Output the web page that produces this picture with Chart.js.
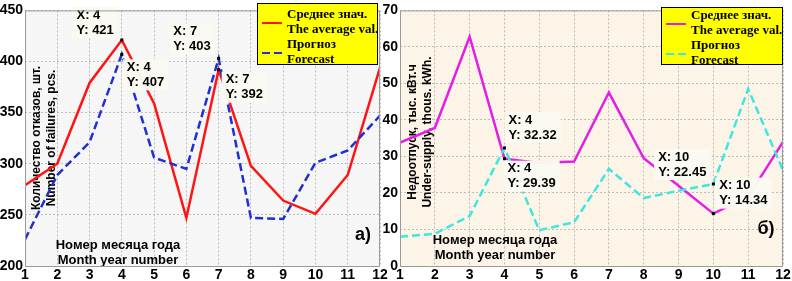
<!DOCTYPE html>
<html>
<head>
<meta charset="utf-8">
<script src="https://cdn.jsdelivr.net/npm/chart.js@4.4.1/dist/chart.umd.min.js"></script>
<style>
  html, body { margin: 0; padding: 0; background: #fff; width: 792px; height: 281px; overflow: hidden; }
  .wrap { position: absolute; top: 0; height: 281px; }
  #wrapA { left: 0; width: 392px; }
  #wrapB { left: 378px; width: 414px; }
</style>
</head>
<body>
<div class="wrap" id="wrapA"><canvas id="chartA" width="392" height="281"></canvas></div>
<div class="wrap" id="wrapB"><canvas id="chartB" width="414" height="281"></canvas></div>
<script>
// DATA
const months = [1, 2, 3, 4, 5, 6, 7, 8, 9, 10, 11, 12];
const failuresAvg      = [279, 300, 379, 421, 359, 247, 392, 298, 264, 251, 289, 394];
const failuresForecast = [226, 289, 321, 407, 306, 295, 403, 247, 246, 301, 313, 347];
const undersupplyAvg      = [33.8, 37.8, 62.8, 29.39, 28.2, 28.6, 47.5, 29.5, 22.0, 14.34, 19.0, 34.0];
const undersupplyForecast = [8.0, 8.8, 13.7, 32.32, 9.8, 12.0, 26.6, 18.6, 20.6, 22.45, 48.5, 26.2];

const seriesNames = [['Среднее знач.', 'The average val.'], ['Прогноз', 'Forecast']];
const xTitle = ['Номер месяца года', 'Month year number'];
const yTitleA = ['Количество отказов, шт.', 'Number of failures, pcs.'];
const yTitleB = ['Недоотпуск, тыс. кВт.ч', 'Under-supply, thous. kWh.'];
const yTicksA = [200, 250, 300, 350, 400, 450];
const yTicksB = [0, 10, 20, 30, 40, 50, 60, 70];

const SANS = '"Liberation Sans", Arial, sans-serif';
const SERIF = '"Liberation Serif", "Times New Roman", serif';

// PLUGINS
const plotBg = {
  id: 'plotBg',
  beforeDraw(chart, args, o) {
    const { ctx, chartArea: a } = chart;
    ctx.save();
    ctx.fillStyle = o.color;
    ctx.fillRect(a.left, a.top, a.right - a.left, a.bottom - a.top);
    ctx.restore();
  },
  afterDraw(chart, args, o) {
    const { ctx, chartArea: a } = chart;
    ctx.save();
    ctx.strokeStyle = o.frame;
    ctx.lineWidth = 1;
    ctx.strokeRect(a.left + 0.5, a.top + 0.5, a.right - a.left - 1, a.bottom - a.top);
    ctx.restore();
  }
};

const titles = {
  id: 'titles',
  beforeDatasetsDraw(chart, args, o) {
    const { ctx, chartArea: a } = chart;
    ctx.save();
    ctx.fillStyle = '#000';
    ctx.font = 'bold 13px ' + SANS;
    ctx.textAlign = 'center';
    ctx.textBaseline = 'middle';
    // x title inside plot
    o.x.forEach((t, i) => ctx.fillText(t, a.left + o.xPos[0], o.xPos[1] + i * 15));
    // rotated y title
    ctx.font = 'bold 12px ' + SANS;
    o.y.forEach((t, i) => {
      ctx.save();
      ctx.translate(a.left + o.yPos[0] + i * 15, o.yPos[1]);
      ctx.rotate(-Math.PI / 2);
      ctx.fillText(t, 0, 0);
      ctx.restore();
    });
    ctx.font = 'bold 18px ' + SANS;
    ctx.fillText(o.tag, a.right - o.tagPos[0], o.tagPos[1]);
    ctx.restore();
  }
};

const tips = {
  id: 'tips',
  afterDatasetsDraw(chart, args, o) {
    const { ctx } = chart;
    const xs = chart.scales.x, ys = chart.scales.y;
    ctx.save();
    ctx.font = 'bold 13px ' + SANS;
    o.items.forEach(t => {
      const p = chart.data.datasets[t.ds].data[t.i];
      const px = xs.getPixelForValue(p.x), py = ys.getPixelForValue(p.y);
      const lines = ['X: ' + p.x, 'Y: ' + p.y];
      const w = Math.max(...lines.map(s => ctx.measureText(s).width)) + 8;
      const h = 31;
      let bx = t.place[0] === 'l' ? px - t.gap[0] - w : px + t.gap[0];
      let by = t.place[1] === 'a' ? py - t.gap[1] - h : py + t.gap[1];
      ctx.fillStyle = 'rgba(250,250,242,0.97)';
      ctx.fillRect(bx, by, w, h);
      ctx.fillStyle = '#000';
      ctx.textAlign = 'left';
      ctx.textBaseline = 'middle';
      ctx.fillText(lines[0], bx + 4, by + 8);
      ctx.fillText(lines[1], bx + 4, by + 23);
      ctx.fillRect(px - 1.5, py - 1.5, 3, 3);
    });
    ctx.restore();
  }
};

const legendBox = {
  id: 'legendBox',
  afterDraw(chart, args, o) {
    const { ctx, chartArea: a } = chart;
    const x = a.right - o.right - o.w, y = o.top;
    ctx.save();
    ctx.fillStyle = '#ffff00';
    ctx.fillRect(x, y, o.w, o.h);
    ctx.strokeStyle = '#000';
    ctx.lineWidth = 1;
    ctx.strokeRect(x + 0.5, y + 0.5, o.w - 1, o.h - 1);
    ctx.font = 'bold 13px ' + SERIF;
    ctx.textAlign = 'left';
    ctx.textBaseline = 'middle';
    chart.data.datasets.forEach((ds, k) => {
      const cy = y + o.pad + k * 30;
      ctx.strokeStyle = ds.borderColor;
      ctx.lineWidth = 2;
      ctx.setLineDash(ds.borderDash || []);
      ctx.beginPath();
      ctx.moveTo(x + 5, cy + 8);
      ctx.lineTo(x + 25, cy + 8);
      ctx.stroke();
      ctx.setLineDash([]);
      ctx.fillStyle = '#000';
      seriesNames[k].forEach((s, j) => ctx.fillText(s, x + 30, cy + j * 15));
    });
    ctx.restore();
  }
};

function toPoints(vals) {
  return months.map((m, i) => ({ x: m, y: vals[i] }));
}

function axes(yMin, yMax, yStep, yWidth) {
  const tickFont = { family: SANS, size: 14, weight: 'bold' };
  return {
    x: {
      type: 'linear', min: 1, max: 12,
      ticks: { stepSize: 1, color: '#000', font: tickFont, padding: 1, maxRotation: 0 },
      grid: { color: '#bdbdbd', drawTicks: false },
      border: { display: false, dash: [2, 2] },
      afterFit(s) { s.height = 15; }
    },
    y: {
      min: yMin, max: yMax,
      ticks: { stepSize: yStep, color: '#000', font: tickFont, padding: 2 },
      grid: { color: '#bdbdbd', drawTicks: false },
      border: { display: false, dash: [2, 2] },
      afterFit(s) { s.width = yWidth; }
    }
  };
}

function makeChart(id, avg, fc, colors, yCfg, opts) {
  return new Chart(document.getElementById(id), {
    type: 'line',
    data: {
      datasets: [
        { data: toPoints(avg), borderColor: colors[0], borderWidth: 2.5, pointRadius: 0, order: 1 },
        { data: toPoints(fc), borderColor: colors[1], borderWidth: 2.5, borderDash: [8, 4], pointRadius: 0, order: 0 }
      ]
    },
    options: {
      responsive: false,
      animation: false,
      devicePixelRatio: 1,
      layout: { padding: opts.padding },
      scales: axes(yCfg[0], yCfg[1], yCfg[2], yCfg[3]),
      plugins: {
        legend: { display: false },
        tooltip: { enabled: false },
        plotBg: { color: opts.bg, frame: '#9a9a9a' },
        titles: opts.titles,
        tips: { items: opts.tips },
        legendBox: opts.legend
      }
    },
    plugins: [plotBg, titles, tips, legendBox]
  });
}

makeChart('chartA', failuresAvg, failuresForecast, ['#ff1414', '#1f2fd2'],
  [yTicksA[0], yTicksA[yTicksA.length - 1], 50, 25], {
    padding: { left: 0, top: 5, right: 12, bottom: 0 },
    bg: '#f6f6f6',
    titles: { x: xTitle, xPos: [93, 245], y: yTitleA, yPos: [12, 138], tag: 'а)', tagPos: [17, 235] },
    tips: [
      { ds: 0, i: 3, place: 'la', gap: [4, 2] },
      { ds: 1, i: 3, place: 'rb', gap: [1, 5] },
      { ds: 1, i: 6, place: 'la', gap: [4, 4] },
      { ds: 0, i: 6, place: 'rb', gap: [3, 2] }
    ],
    legend: { right: 2, top: 3, w: 121, h: 62, pad: 12 }
  });

makeChart('chartB', undersupplyAvg, undersupplyForecast, ['#e41ee4', '#3ee6e0'],
  [yTicksB[0], yTicksB[yTicksB.length - 1], 10, 22], {
    padding: { left: 0, top: 5, right: 9, bottom: 0 },
    bg: '#fcf4e6',
    titles: { x: xTitle, xPos: [95, 240], y: yTitleB, yPos: [13, 132], tag: 'б)', tagPos: [17, 229] },
    tips: [
      { ds: 1, i: 3, place: 'ra', gap: [0, 5] },
      { ds: 0, i: 3, place: 'rb', gap: [-1, 2] },
      { ds: 1, i: 9, place: 'la', gap: [3, 4] },
      { ds: 0, i: 9, place: 'ra', gap: [2, 5] }
    ],
    legend: { right: 0, top: 7, w: 122, h: 58, pad: 9 }
  });
</script>
</body>
</html>
